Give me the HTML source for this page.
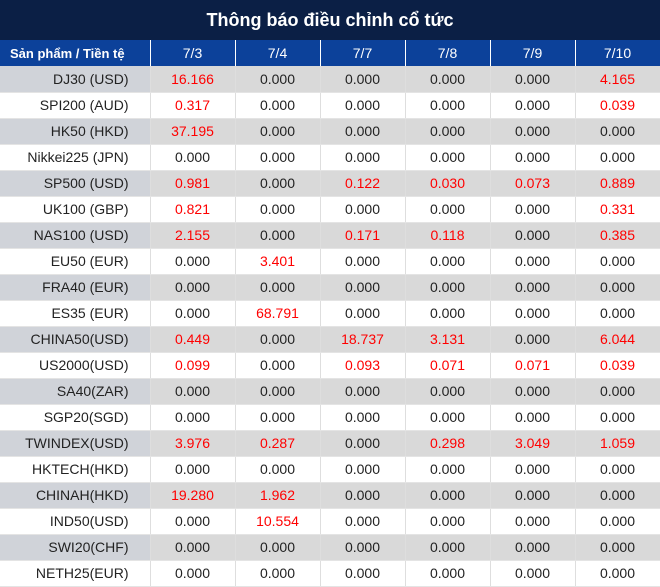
<!DOCTYPE html>
<html><head><meta charset="utf-8"><style>
body{margin:0;width:660px;height:587px;overflow:hidden;background:#fff;font-family:"Liberation Sans","DejaVu Sans",sans-serif}
.title{height:40px;background:#0b1f45;color:#fff;font-weight:bold;font-size:18px;text-align:center;line-height:40px}
table{border-collapse:collapse;width:660px;table-layout:fixed}
td,th{height:26px;padding:0;font-size:14px;text-align:center;border-right:1px solid #dedede;border-bottom:1px solid #e4e4e4;box-sizing:border-box;color:#222}
th{background:#0c419a;color:#fff;font-weight:normal;border-right:1px solid #fff;border-bottom:none}
th.f{font-weight:bold;font-size:13px;text-align:left;padding-left:10px}
td.f{text-align:right;padding-right:21px}
tr.g td{background:#d9d9d9}
tr.g td.f{background:#d0d3d9}
.r{color:#ff0000}
</style></head><body>
<div class="title">Thông báo điều chỉnh cổ tức</div>
<table>
<colgroup><col style="width:150px"><col style="width:85px"><col style="width:85px"><col style="width:85px"><col style="width:85px"><col style="width:85px"><col style="width:85px"></colgroup>
<thead><tr><th class="f">Sản phẩm / Tiền tệ</th><th>7/3</th><th>7/4</th><th>7/7</th><th>7/8</th><th>7/9</th><th>7/10</th></tr></thead>
<tbody id="tb"></tbody></table>
<script>
const products=["DJ30 (USD)","SPI200 (AUD)","HK50 (HKD)","Nikkei225 (JPN)","SP500 (USD)","UK100 (GBP)","NAS100 (USD)","EU50 (EUR)","FRA40 (EUR)","ES35 (EUR)","CHINA50(USD)","US2000(USD)","SA40(ZAR)","SGP20(SGD)","TWINDEX(USD)","HKTECH(HKD)","CHINAH(HKD)","IND50(USD)","SWI20(CHF)","NETH25(EUR)"];
const values=[
[16.166,0,0,0,0,4.165],[0.317,0,0,0,0,0.039],[37.195,0,0,0,0,0],[0,0,0,0,0,0],
[0.981,0,0.122,0.030,0.073,0.889],[0.821,0,0,0,0,0.331],[2.155,0,0.171,0.118,0,0.385],
[0,3.401,0,0,0,0],[0,0,0,0,0,0],[0,68.791,0,0,0,0],[0.449,0,18.737,3.131,0,6.044],
[0.099,0,0.093,0.071,0.071,0.039],[0,0,0,0,0,0],[0,0,0,0,0,0],[3.976,0.287,0,0.298,3.049,1.059],
[0,0,0,0,0,0],[19.280,1.962,0,0,0,0],[0,10.554,0,0,0,0],[0,0,0,0,0,0],[0,0,0,0,0,0]];
const tb=document.getElementById('tb');
products.forEach((p,i)=>{
 const tr=document.createElement('tr');
 
 
 if(i%2===0)tr.className='g';
 const td=document.createElement('td');
 td.className='f';td.textContent=p;
 
 
 tr.appendChild(td);
 values[i].forEach(v=>{
  const c=document.createElement('td');
  c.textContent=v.toFixed(3);
  if(v>0)c.className='r';
  
  
  tr.appendChild(c);
 });
 tb.appendChild(tr);
});
</script>
</body></html>
